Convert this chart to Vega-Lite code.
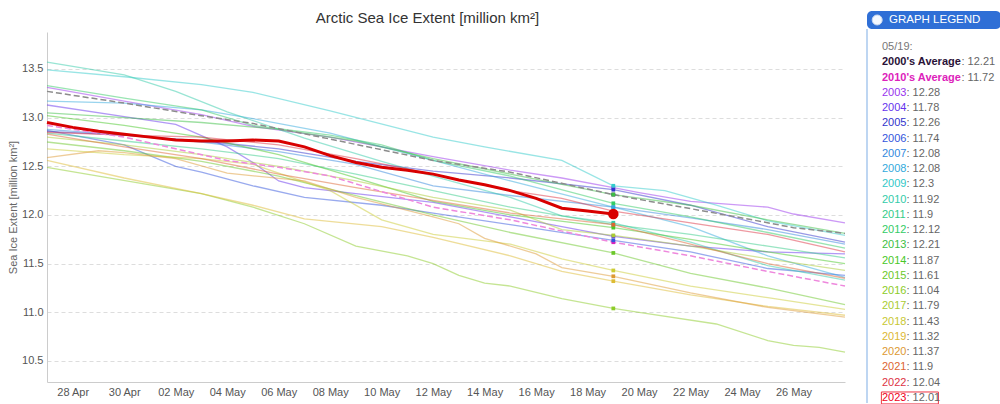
{
  "$schema": "https://vega.github.io/schema/vega-lite/v6.json",
  "background": "white",
  "padding": {"left": 7, "top": 10, "right": 0, "bottom": 0},
  "autosize": {"type": "pad"},
  "config": {"font": "Liberation Sans", "view": {"stroke": null}},
  "datasets": {
    "y2023": [
      {"series":"2023","date":"2023/04/27","value":12.95},{"series":"2023","date":"2023/04/28","value":12.90},{"series":"2023","date":"2023/04/29","value":12.86},{"series":"2023","date":"2023/04/30","value":12.83},{"series":"2023","date":"2023/05/01","value":12.80},{"series":"2023","date":"2023/05/02","value":12.77},{"series":"2023","date":"2023/05/03","value":12.76},{"series":"2023","date":"2023/05/04","value":12.76},{"series":"2023","date":"2023/05/05","value":12.77},{"series":"2023","date":"2023/05/06","value":12.76},{"series":"2023","date":"2023/05/07","value":12.70},{"series":"2023","date":"2023/05/08","value":12.61},{"series":"2023","date":"2023/05/09","value":12.54},{"series":"2023","date":"2023/05/10","value":12.49},{"series":"2023","date":"2023/05/11","value":12.46},{"series":"2023","date":"2023/05/12","value":12.42},{"series":"2023","date":"2023/05/13","value":12.36},{"series":"2023","date":"2023/05/14","value":12.31},{"series":"2023","date":"2023/05/15","value":12.25},{"series":"2023","date":"2023/05/16","value":12.17},{"series":"2023","date":"2023/05/17","value":12.07},{"series":"2023","date":"2023/05/18","value":12.04},{"series":"2023","date":"2023/05/19","value":12.01}
    ],
    "avg2000": [
      {"series":"2000's Average","date":"2023/04/27","value":13.27},{"series":"2000's Average","date":"2023/04/30","value":13.15},{"series":"2000's Average","date":"2023/05/03","value":13.02},{"series":"2000's Average","date":"2023/05/05","value":12.94},{"series":"2000's Average","date":"2023/05/08","value":12.78},{"series":"2000's Average","date":"2023/05/12","value":12.56},{"series":"2000's Average","date":"2023/05/15","value":12.44},{"series":"2000's Average","date":"2023/05/19","value":12.21},{"series":"2000's Average","date":"2023/05/20","value":12.16},{"series":"2000's Average","date":"2023/05/24","value":11.97},{"series":"2000's Average","date":"2023/05/26","value":11.87},{"series":"2000's Average","date":"2023/05/28","value":11.81}
    ],
    "avg2010": [
      {"series":"2010's Average","date":"2023/04/27","value":12.92},{"series":"2010's Average","date":"2023/04/30","value":12.80},{"series":"2010's Average","date":"2023/05/02","value":12.68},{"series":"2010's Average","date":"2023/05/04","value":12.56},{"series":"2010's Average","date":"2023/05/06","value":12.49},{"series":"2010's Average","date":"2023/05/08","value":12.40},{"series":"2010's Average","date":"2023/05/12","value":12.08},{"series":"2010's Average","date":"2023/05/15","value":11.95},{"series":"2010's Average","date":"2023/05/19","value":11.72},{"series":"2010's Average","date":"2023/05/22","value":11.58},{"series":"2010's Average","date":"2023/05/25","value":11.42},{"series":"2010's Average","date":"2023/05/28","value":11.27}
    ],
    "years": [
      {"series":"2003","date":"2023/04/27","value":13.31},{"series":"2003","date":"2023/04/30","value":13.17},{"series":"2003","date":"2023/05/03","value":13.03},{"series":"2003","date":"2023/05/05","value":12.91},{"series":"2003","date":"2023/05/08","value":12.80},{"series":"2003","date":"2023/05/12","value":12.60},{"series":"2003","date":"2023/05/15","value":12.46},{"series":"2003","date":"2023/05/17","value":12.38},{"series":"2003","date":"2023/05/19","value":12.28},{"series":"2003","date":"2023/05/20","value":12.23},{"series":"2003","date":"2023/05/22","value":12.14},{"series":"2003","date":"2023/05/25","value":12.08},{"series":"2003","date":"2023/05/26","value":12.01},{"series":"2003","date":"2023/05/28","value":11.92},
      {"series":"2004","date":"2023/04/27","value":13.13},{"series":"2004","date":"2023/04/30","value":13.01},{"series":"2004","date":"2023/05/02","value":12.93},{"series":"2004","date":"2023/05/04","value":12.70},{"series":"2004","date":"2023/05/05","value":12.54},{"series":"2004","date":"2023/05/06","value":12.35},{"series":"2004","date":"2023/05/07","value":12.28},{"series":"2004","date":"2023/05/09","value":12.22},{"series":"2004","date":"2023/05/12","value":12.13},{"series":"2004","date":"2023/05/15","value":11.98},{"series":"2004","date":"2023/05/19","value":11.78},{"series":"2004","date":"2023/05/22","value":11.68},{"series":"2004","date":"2023/05/25","value":11.62},{"series":"2004","date":"2023/05/28","value":11.60},
      {"series":"2005","date":"2023/04/27","value":12.86},{"series":"2005","date":"2023/04/30","value":12.82},{"series":"2005","date":"2023/05/03","value":12.76},{"series":"2005","date":"2023/05/06","value":12.68},{"series":"2005","date":"2023/05/09","value":12.55},{"series":"2005","date":"2023/05/12","value":12.45},{"series":"2005","date":"2023/05/15","value":12.38},{"series":"2005","date":"2023/05/19","value":12.26},{"series":"2005","date":"2023/05/22","value":12.10},{"series":"2005","date":"2023/05/25","value":11.88},{"series":"2005","date":"2023/05/28","value":11.72},
      {"series":"2006","date":"2023/04/27","value":12.87},{"series":"2006","date":"2023/04/30","value":12.72},{"series":"2006","date":"2023/05/02","value":12.50},{"series":"2006","date":"2023/05/03","value":12.44},{"series":"2006","date":"2023/05/05","value":12.30},{"series":"2006","date":"2023/05/07","value":12.18},{"series":"2006","date":"2023/05/10","value":12.10},{"series":"2006","date":"2023/05/12","value":12.02},{"series":"2006","date":"2023/05/15","value":11.90},{"series":"2006","date":"2023/05/19","value":11.74},{"series":"2006","date":"2023/05/22","value":11.62},{"series":"2006","date":"2023/05/25","value":11.45},{"series":"2006","date":"2023/05/28","value":11.38},
      {"series":"2007","date":"2023/04/27","value":12.88},{"series":"2007","date":"2023/04/30","value":12.82},{"series":"2007","date":"2023/05/03","value":12.75},{"series":"2007","date":"2023/05/06","value":12.65},{"series":"2007","date":"2023/05/09","value":12.52},{"series":"2007","date":"2023/05/12","value":12.30},{"series":"2007","date":"2023/05/15","value":12.20},{"series":"2007","date":"2023/05/19","value":12.08},{"series":"2007","date":"2023/05/22","value":11.97},{"series":"2007","date":"2023/05/25","value":11.85},{"series":"2007","date":"2023/05/28","value":11.70},
      {"series":"2008","date":"2023/04/27","value":13.17},{"series":"2008","date":"2023/04/30","value":13.15},{"series":"2008","date":"2023/05/03","value":13.08},{"series":"2008","date":"2023/05/05","value":12.99},{"series":"2008","date":"2023/05/08","value":12.84},{"series":"2008","date":"2023/05/12","value":12.56},{"series":"2008","date":"2023/05/15","value":12.35},{"series":"2008","date":"2023/05/19","value":12.08},{"series":"2008","date":"2023/05/22","value":11.88},{"series":"2008","date":"2023/05/25","value":11.58},{"series":"2008","date":"2023/05/28","value":11.36},
      {"series":"2009","date":"2023/04/27","value":13.49},{"series":"2009","date":"2023/04/30","value":13.42},{"series":"2009","date":"2023/05/03","value":13.34},{"series":"2009","date":"2023/05/05","value":13.26},{"series":"2009","date":"2023/05/08","value":13.07},{"series":"2009","date":"2023/05/12","value":12.80},{"series":"2009","date":"2023/05/14","value":12.70},{"series":"2009","date":"2023/05/17","value":12.56},{"series":"2009","date":"2023/05/19","value":12.30},{"series":"2009","date":"2023/05/21","value":12.25},{"series":"2009","date":"2023/05/23","value":12.10},{"series":"2009","date":"2023/05/25","value":11.94},{"series":"2009","date":"2023/05/28","value":11.79},
      {"series":"2010","date":"2023/04/27","value":13.57},{"series":"2010","date":"2023/04/30","value":13.44},{"series":"2010","date":"2023/05/02","value":13.27},{"series":"2010","date":"2023/05/04","value":13.06},{"series":"2010","date":"2023/05/07","value":12.79},{"series":"2010","date":"2023/05/10","value":12.55},{"series":"2010","date":"2023/05/12","value":12.40},{"series":"2010","date":"2023/05/15","value":12.18},{"series":"2010","date":"2023/05/17","value":11.99},{"series":"2010","date":"2023/05/19","value":11.92},{"series":"2010","date":"2023/05/22","value":11.72},{"series":"2010","date":"2023/05/25","value":11.48},{"series":"2010","date":"2023/05/28","value":11.33},
      {"series":"2011","date":"2023/04/27","value":12.84},{"series":"2011","date":"2023/04/30","value":12.76},{"series":"2011","date":"2023/05/03","value":12.68},{"series":"2011","date":"2023/05/06","value":12.58},{"series":"2011","date":"2023/05/09","value":12.42},{"series":"2011","date":"2023/05/12","value":12.25},{"series":"2011","date":"2023/05/15","value":12.08},{"series":"2011","date":"2023/05/19","value":11.90},{"series":"2011","date":"2023/05/22","value":11.80},{"series":"2011","date":"2023/05/25","value":11.68},{"series":"2011","date":"2023/05/28","value":11.56},
      {"series":"2012","date":"2023/04/27","value":13.33},{"series":"2012","date":"2023/04/30","value":13.20},{"series":"2012","date":"2023/05/03","value":13.08},{"series":"2012","date":"2023/05/05","value":12.92},{"series":"2012","date":"2023/05/08","value":12.82},{"series":"2012","date":"2023/05/10","value":12.72},{"series":"2012","date":"2023/05/12","value":12.56},{"series":"2012","date":"2023/05/15","value":12.40},{"series":"2012","date":"2023/05/19","value":12.12},{"series":"2012","date":"2023/05/22","value":11.98},{"series":"2012","date":"2023/05/25","value":11.82},{"series":"2012","date":"2023/05/28","value":11.66},
      {"series":"2013","date":"2023/04/27","value":13.05},{"series":"2013","date":"2023/04/30","value":13.00},{"series":"2013","date":"2023/05/03","value":12.95},{"series":"2013","date":"2023/05/06","value":12.88},{"series":"2013","date":"2023/05/09","value":12.76},{"series":"2013","date":"2023/05/12","value":12.58},{"series":"2013","date":"2023/05/15","value":12.42},{"series":"2013","date":"2023/05/19","value":12.21},{"series":"2013","date":"2023/05/22","value":12.10},{"series":"2013","date":"2023/05/25","value":11.95},{"series":"2013","date":"2023/05/28","value":11.81},
      {"series":"2014","date":"2023/04/27","value":13.02},{"series":"2014","date":"2023/04/30","value":12.92},{"series":"2014","date":"2023/05/03","value":12.80},{"series":"2014","date":"2023/05/06","value":12.62},{"series":"2014","date":"2023/05/09","value":12.38},{"series":"2014","date":"2023/05/12","value":12.14},{"series":"2014","date":"2023/05/15","value":12.00},{"series":"2014","date":"2023/05/19","value":11.87},{"series":"2014","date":"2023/05/22","value":11.75},{"series":"2014","date":"2023/05/25","value":11.62},{"series":"2014","date":"2023/05/28","value":11.50},
      {"series":"2015","date":"2023/04/27","value":12.75},{"series":"2015","date":"2023/04/30","value":12.66},{"series":"2015","date":"2023/05/03","value":12.55},{"series":"2015","date":"2023/05/06","value":12.40},{"series":"2015","date":"2023/05/09","value":12.20},{"series":"2015","date":"2023/05/12","value":12.00},{"series":"2015","date":"2023/05/15","value":11.82},{"series":"2015","date":"2023/05/19","value":11.61},{"series":"2015","date":"2023/05/22","value":11.40},{"series":"2015","date":"2023/05/25","value":11.25},{"series":"2015","date":"2023/05/28","value":11.08},
      {"series":"2016","date":"2023/04/27","value":12.49},{"series":"2016","date":"2023/04/29","value":12.40},{"series":"2016","date":"2023/05/01","value":12.31},{"series":"2016","date":"2023/05/03","value":12.22},{"series":"2016","date":"2023/05/05","value":12.08},{"series":"2016","date":"2023/05/07","value":11.91},{"series":"2016","date":"2023/05/09","value":11.68},{"series":"2016","date":"2023/05/11","value":11.58},{"series":"2016","date":"2023/05/12","value":11.50},{"series":"2016","date":"2023/05/13","value":11.38},{"series":"2016","date":"2023/05/14","value":11.30},{"series":"2016","date":"2023/05/15","value":11.27},{"series":"2016","date":"2023/05/17","value":11.14},{"series":"2016","date":"2023/05/19","value":11.04},{"series":"2016","date":"2023/05/20","value":11.00},{"series":"2016","date":"2023/05/23","value":10.88},{"series":"2016","date":"2023/05/25","value":10.71},{"series":"2016","date":"2023/05/26","value":10.66},{"series":"2016","date":"2023/05/27","value":10.64},{"series":"2016","date":"2023/05/28","value":10.59},
      {"series":"2017","date":"2023/04/27","value":12.80},{"series":"2017","date":"2023/04/30","value":12.72},{"series":"2017","date":"2023/05/03","value":12.62},{"series":"2017","date":"2023/05/06","value":12.50},{"series":"2017","date":"2023/05/09","value":12.35},{"series":"2017","date":"2023/05/12","value":12.18},{"series":"2017","date":"2023/05/15","value":12.05},{"series":"2017","date":"2023/05/17","value":11.85},{"series":"2017","date":"2023/05/19","value":11.79},{"series":"2017","date":"2023/05/22","value":11.68},{"series":"2017","date":"2023/05/25","value":11.55},{"series":"2017","date":"2023/05/28","value":11.43},
      {"series":"2018","date":"2023/04/27","value":12.68},{"series":"2018","date":"2023/04/30","value":12.62},{"series":"2018","date":"2023/05/03","value":12.58},{"series":"2018","date":"2023/05/05","value":12.52},{"series":"2018","date":"2023/05/08","value":12.25},{"series":"2018","date":"2023/05/10","value":11.95},{"series":"2018","date":"2023/05/12","value":11.80},{"series":"2018","date":"2023/05/15","value":11.70},{"series":"2018","date":"2023/05/17","value":11.55},{"series":"2018","date":"2023/05/19","value":11.43},{"series":"2018","date":"2023/05/22","value":11.27},{"series":"2018","date":"2023/05/25","value":11.15},{"series":"2018","date":"2023/05/28","value":11.03},
      {"series":"2019","date":"2023/04/27","value":12.56},{"series":"2019","date":"2023/04/30","value":12.38},{"series":"2019","date":"2023/05/03","value":12.22},{"series":"2019","date":"2023/05/05","value":12.10},{"series":"2019","date":"2023/05/07","value":11.96},{"series":"2019","date":"2023/05/10","value":11.88},{"series":"2019","date":"2023/05/12","value":11.77},{"series":"2019","date":"2023/05/15","value":11.58},{"series":"2019","date":"2023/05/17","value":11.42},{"series":"2019","date":"2023/05/19","value":11.32},{"series":"2019","date":"2023/05/22","value":11.18},{"series":"2019","date":"2023/05/25","value":11.06},{"series":"2019","date":"2023/05/28","value":10.97},
      {"series":"2020","date":"2023/04/27","value":12.59},{"series":"2020","date":"2023/04/29","value":12.66},{"series":"2020","date":"2023/04/30","value":12.64},{"series":"2020","date":"2023/05/02","value":12.58},{"series":"2020","date":"2023/05/04","value":12.43},{"series":"2020","date":"2023/05/07","value":12.35},{"series":"2020","date":"2023/05/09","value":12.18},{"series":"2020","date":"2023/05/12","value":11.98},{"series":"2020","date":"2023/05/13","value":11.91},{"series":"2020","date":"2023/05/14","value":11.76},{"series":"2020","date":"2023/05/16","value":11.60},{"series":"2020","date":"2023/05/17","value":11.46},{"series":"2020","date":"2023/05/19","value":11.37},{"series":"2020","date":"2023/05/22","value":11.20},{"series":"2020","date":"2023/05/25","value":11.05},{"series":"2020","date":"2023/05/28","value":10.95},
      {"series":"2021","date":"2023/04/27","value":12.83},{"series":"2021","date":"2023/04/30","value":12.70},{"series":"2021","date":"2023/05/03","value":12.58},{"series":"2021","date":"2023/05/06","value":12.42},{"series":"2021","date":"2023/05/09","value":12.28},{"series":"2021","date":"2023/05/12","value":12.15},{"series":"2021","date":"2023/05/15","value":12.02},{"series":"2021","date":"2023/05/19","value":11.90},{"series":"2021","date":"2023/05/22","value":11.70},{"series":"2021","date":"2023/05/25","value":11.50},{"series":"2021","date":"2023/05/28","value":11.35},
      {"series":"2022","date":"2023/04/27","value":12.85},{"series":"2022","date":"2023/04/30","value":12.82},{"series":"2022","date":"2023/05/03","value":12.80},{"series":"2022","date":"2023/05/06","value":12.72},{"series":"2022","date":"2023/05/09","value":12.58},{"series":"2022","date":"2023/05/12","value":12.42},{"series":"2022","date":"2023/05/15","value":12.25},{"series":"2022","date":"2023/05/17","value":12.17},{"series":"2022","date":"2023/05/19","value":12.04},{"series":"2022","date":"2023/05/22","value":11.92},{"series":"2022","date":"2023/05/25","value":11.80},{"series":"2022","date":"2023/05/28","value":11.62}
    ],
    "legend": [
      {"row":0,"series":"05/19:","label":"05/19:","kind":"head","panel":"GRAPH LEGEND"},
      {"row":1,"series":"2000's Average","label":"2000's Average","shown":": 12.21","value":12.21,"date":"2023/05/19","kind":"avg"},
      {"row":2,"series":"2010's Average","label":"2010's Average","shown":": 11.72","value":11.72,"date":"2023/05/19","kind":"avg"},
      {"row":3,"series":"2003","label":"2003","shown":": 12.28","value":12.28,"date":"2023/05/19","kind":"year"},
      {"row":4,"series":"2004","label":"2004","shown":": 11.78","value":11.78,"date":"2023/05/19","kind":"year"},
      {"row":5,"series":"2005","label":"2005","shown":": 12.26","value":12.26,"date":"2023/05/19","kind":"year"},
      {"row":6,"series":"2006","label":"2006","shown":": 11.74","value":11.74,"date":"2023/05/19","kind":"year"},
      {"row":7,"series":"2007","label":"2007","shown":": 12.08","value":12.08,"date":"2023/05/19","kind":"year"},
      {"row":8,"series":"2008","label":"2008","shown":": 12.08","value":12.08,"date":"2023/05/19","kind":"year"},
      {"row":9,"series":"2009","label":"2009","shown":": 12.3","value":12.3,"date":"2023/05/19","kind":"year"},
      {"row":10,"series":"2010","label":"2010","shown":": 11.92","value":11.92,"date":"2023/05/19","kind":"year"},
      {"row":11,"series":"2011","label":"2011","shown":": 11.9","value":11.9,"date":"2023/05/19","kind":"year"},
      {"row":12,"series":"2012","label":"2012","shown":": 12.12","value":12.12,"date":"2023/05/19","kind":"year"},
      {"row":13,"series":"2013","label":"2013","shown":": 12.21","value":12.21,"date":"2023/05/19","kind":"year"},
      {"row":14,"series":"2014","label":"2014","shown":": 11.87","value":11.87,"date":"2023/05/19","kind":"year"},
      {"row":15,"series":"2015","label":"2015","shown":": 11.61","value":11.61,"date":"2023/05/19","kind":"year"},
      {"row":16,"series":"2016","label":"2016","shown":": 11.04","value":11.04,"date":"2023/05/19","kind":"year"},
      {"row":17,"series":"2017","label":"2017","shown":": 11.79","value":11.79,"date":"2023/05/19","kind":"year"},
      {"row":18,"series":"2018","label":"2018","shown":": 11.43","value":11.43,"date":"2023/05/19","kind":"year"},
      {"row":19,"series":"2019","label":"2019","shown":": 11.32","value":11.32,"date":"2023/05/19","kind":"year"},
      {"row":20,"series":"2020","label":"2020","shown":": 11.37","value":11.37,"date":"2023/05/19","kind":"year"},
      {"row":21,"series":"2021","label":"2021","shown":": 11.9","value":11.9,"date":"2023/05/19","kind":"year"},
      {"row":22,"series":"2022","label":"2022","shown":": 12.04","value":12.04,"date":"2023/05/19","kind":"year"},
      {"row":23,"series":"2023","label":"2023","shown":": 12.01","value":12.01,"date":"2023/05/19","kind":"current"}
    ]
  },
  "spacing": 18,
  "resolve": {"scale": {"x": "independent", "y": "independent", "color": "independent"}},
  "hconcat": [
    {
      "width": 798,
      "height": 350,
      "title": {"text": "Arctic Sea Ice Extent [million km²]", "fontSize": 15, "fontWeight": "normal", "color": "#333333", "offset": 6, "anchor": "middle", "frame": "bounds"},
      "encoding": {
        "x": {"field": "date", "type": "temporal",
              "scale": {"domain": [{"year":2023,"month":4,"date":27},{"year":2023,"month":5,"date":28}]},
              "axis": {"title": null, "format": "%d %b", "labelFontSize": 11, "labelColor": "#555555", "ticks": false, "grid": false, "domainColor": "#cccccc", "labelPadding": 4, "labelFlush": false,
                "values": [{"year":2023,"month":4,"date":28},{"year":2023,"month":4,"date":30},{"year":2023,"month":5,"date":2},{"year":2023,"month":5,"date":4},{"year":2023,"month":5,"date":6},{"year":2023,"month":5,"date":8},{"year":2023,"month":5,"date":10},{"year":2023,"month":5,"date":12},{"year":2023,"month":5,"date":14},{"year":2023,"month":5,"date":16},{"year":2023,"month":5,"date":18},{"year":2023,"month":5,"date":20},{"year":2023,"month":5,"date":22},{"year":2023,"month":5,"date":24},{"year":2023,"month":5,"date":26}]}},
        "y": {"field": "value", "type": "quantitative",
              "scale": {"domain": [10.284, 13.88], "nice": false, "zero": false},
              "axis": {"title": "Sea Ice Extent [million km²]", "titleFontSize": 11, "titleFontWeight": "normal", "titleColor": "#666666", "values": [10.5, 11, 11.5, 12, 12.5, 13, 13.5], "format": ".1f", "labelFontSize": 11, "labelColor": "#555555", "ticks": false, "grid": true, "gridDash": [4, 3], "gridColor": "#dddddd", "domainColor": "#cccccc", "labelPadding": 4, "minExtent": 22, "maxExtent": 22, "titlePadding": 7}}
      },
      "layer": [
        {
          "data": {"name": "years"},
          "mark": {"type": "line", "strokeWidth": 1.3, "opacity": 0.5},
          "encoding": {
            "color": {"field": "series", "type": "nominal", "legend": null,
              "scale": {"domain": ["05/19:","2000's Average","2010's Average","2003","2004","2005","2006","2007","2008","2009","2010","2011","2012","2013","2014","2015","2016","2017","2018","2019","2020","2021","2022","2023"],
                        "range": ["#777777","#2a1238","#dd22bb","#9933ee","#6633ee","#3333cc","#3355dd","#3388dd","#33aadd","#33cccc","#33ccaa","#33cc88","#33cc66","#3cbf44","#48c828","#6cc82a","#8ccc28","#aacc33","#cccc33","#ddbb33","#dd9933","#dd6633","#dd3344","#ee0022"]}},
            "detail": {"field": "series"}
          }
        },
        {
          "data": {"name": "avg2000"},
          "mark": {"type": "line", "strokeWidth": 1.5, "color": "#8c8c8c", "strokeDash": [6, 3]},
          "encoding": {}
        },
        {
          "data": {"name": "avg2010"},
          "mark": {"type": "line", "strokeWidth": 1.5, "color": "#ee88dd", "strokeDash": [6, 3]},
          "encoding": {}
        },
        {
          "data": {"name": "legend"},
          "transform": [{"filter": "datum.kind == 'year' || datum.kind == 'avg'"}],
          "mark": {"type": "square", "size": 14, "opacity": 1, "filled": true},
          "encoding": {
            "color": {"field": "series", "type": "nominal", "legend": null,
              "scale": {"domain": ["05/19:","2000's Average","2010's Average","2003","2004","2005","2006","2007","2008","2009","2010","2011","2012","2013","2014","2015","2016","2017","2018","2019","2020","2021","2022","2023"],
                        "range": ["#777777","#2a1238","#dd22bb","#9933ee","#6633ee","#3333cc","#3355dd","#3388dd","#33aadd","#33cccc","#33ccaa","#33cc88","#33cc66","#3cbf44","#48c828","#6cc82a","#8ccc28","#aacc33","#cccc33","#ddbb33","#dd9933","#dd6633","#dd3344","#ee0022"]}}
          }
        },
        {
          "data": {"name": "y2023"},
          "mark": {"type": "line", "strokeWidth": 3, "color": "#d80000"},
          "encoding": {}
        },
        {
          "data": {"name": "legend"},
          "transform": [{"filter": "datum.kind == 'current'"}],
          "mark": {"type": "circle", "size": 110, "color": "#d80000", "opacity": 1},
          "encoding": {}
        }
      ]
    },
    {
      "width": 134,
      "height": 371,
      "data": {"name": "legend"},
      "layer": [
        {
          "transform": [{"filter": "datum.kind == 'head'"}],
          "mark": {"type": "rect", "color": "#2f6fd6", "cornerRadius": 5, "opacity": 1},
          "encoding": {
            "x": {"datum": 0, "type": "quantitative", "scale": {"domain": [0, 1]}, "axis": null},
            "x2": {"datum": 1},
            "y": {"datum": -2.36, "type": "quantitative", "scale": {"domain": [-0.983, 23.33], "reverse": true, "nice": false, "zero": false}, "axis": null},
            "y2": {"datum": -1.18}
          }
        },
        {
          "transform": [{"filter": "datum.kind == 'head'"}],
          "mark": {"type": "circle", "size": 100, "color": "#f4f8ff", "opacity": 1, "stroke": "#c8d8f0", "strokeWidth": 1},
          "encoding": {
            "x": {"datum": 0.076, "type": "quantitative", "scale": {"domain": [0, 1]}, "axis": null},
            "y": {"datum": -1.77, "type": "quantitative", "scale": {"domain": [-0.983, 23.33], "reverse": true, "nice": false, "zero": false}, "axis": null}
          }
        },
        {
          "transform": [{"filter": "datum.kind == 'head'"}],
          "mark": {"type": "text", "align": "left", "baseline": "middle", "fontSize": 11.5, "color": "white", "dx": 22},
          "encoding": {
            "x": {"datum": 0, "type": "quantitative", "scale": {"domain": [0, 1]}, "axis": null},
            "y": {"datum": -1.77, "type": "quantitative", "scale": {"domain": [-0.983, 23.33], "reverse": true, "nice": false, "zero": false}, "axis": null},
            "text": {"field": "panel"}
          }
        },
        {
          "transform": [{"filter": "datum.kind == 'head'"}],
          "mark": {"type": "rule", "color": "#a8c8ee", "strokeWidth": 1.5},
          "encoding": {
            "x": {"datum": 0, "type": "quantitative", "scale": {"domain": [0, 1]}, "axis": null},
            "y": {"datum": -1.18, "type": "quantitative", "scale": {"domain": [-0.983, 23.33], "reverse": true, "nice": false, "zero": false}, "axis": null},
            "y2": {"datum": 23.33}
          }
        },
        {
          "transform": [{"filter": "datum.kind == 'current'"}],
          "mark": {"type": "point", "shape": "M -1 -0.21 H 1 V 0.21 H -1 Z", "size": 3249, "filled": false, "color": "#ee3344", "strokeWidth": 1, "opacity": 1},
          "encoding": {
            "x": {"datum": 0.32, "type": "quantitative", "scale": {"domain": [0, 1]}, "axis": null},
            "y": {"field": "row", "type": "quantitative", "scale": {"domain": [-0.983, 23.33], "reverse": true, "nice": false, "zero": false}, "axis": null}
          }
        },
        {
          "mark": {"type": "text", "align": "left", "baseline": "middle", "fontSize": 11, "dx": 15},
          "transform": [{"filter": "datum.kind != 'avg'"}],
          "encoding": {
            "x": {"datum": 0, "type": "quantitative", "scale": {"domain": [0, 1]}, "axis": null},
            "y": {"field": "row", "type": "quantitative", "scale": {"domain": [-0.983, 23.33], "reverse": true, "nice": false, "zero": false}, "axis": null},
            "text": {"field": "label"},
            "color": {"field": "series", "type": "nominal", "legend": null,
              "scale": {"domain": ["05/19:","2000's Average","2010's Average","2003","2004","2005","2006","2007","2008","2009","2010","2011","2012","2013","2014","2015","2016","2017","2018","2019","2020","2021","2022","2023"],
                        "range": ["#777777","#2a1238","#dd22bb","#9933ee","#6633ee","#3333cc","#3355dd","#3388dd","#33aadd","#33c8c8","#33ccaa","#33cc88","#33cc66","#3cbf44","#48c828","#6cc82a","#8ccc28","#aacc33","#c8c833","#ddb833","#dd9933","#dd6633","#dd3344","#ee0022"]}}
          }
        },
        {
          "mark": {"type": "text", "align": "left", "baseline": "middle", "fontSize": 11, "fontWeight": "bold", "dx": 15},
          "transform": [{"filter": "datum.kind == 'avg'"}],
          "encoding": {
            "x": {"datum": 0, "type": "quantitative", "scale": {"domain": [0, 1]}, "axis": null},
            "y": {"field": "row", "type": "quantitative", "scale": {"domain": [-0.983, 23.33], "reverse": true, "nice": false, "zero": false}, "axis": null},
            "text": {"field": "label"},
            "color": {"field": "series", "type": "nominal", "legend": null,
              "scale": {"domain": ["05/19:","2000's Average","2010's Average","2003","2004","2005","2006","2007","2008","2009","2010","2011","2012","2013","2014","2015","2016","2017","2018","2019","2020","2021","2022","2023"],
                        "range": ["#777777","#2a1238","#dd22bb","#9933ee","#6633ee","#3333cc","#3355dd","#3388dd","#33aadd","#33c8c8","#33ccaa","#33cc88","#33cc66","#3cbf44","#48c828","#6cc82a","#8ccc28","#aacc33","#c8c833","#ddb833","#dd9933","#dd6633","#dd3344","#ee0022"]}}
          }
        },
        {
          "mark": {"type": "text", "align": "left", "baseline": "middle", "fontSize": 11, "dx": 39.5, "color": "#666666"},
          "transform": [{"filter": "datum.kind == 'year' || datum.kind == 'current'"}],
          "encoding": {
            "x": {"datum": 0, "type": "quantitative", "scale": {"domain": [0, 1]}, "axis": null},
            "y": {"field": "row", "type": "quantitative", "scale": {"domain": [-0.983, 23.33], "reverse": true, "nice": false, "zero": false}, "axis": null},
            "text": {"field": "shown"}
          }
        },
        {
          "mark": {"type": "text", "align": "left", "baseline": "middle", "fontSize": 11, "dx": 94.5, "color": "#666666"},
          "transform": [{"filter": "datum.kind == 'avg'"}],
          "encoding": {
            "x": {"datum": 0, "type": "quantitative", "scale": {"domain": [0, 1]}, "axis": null},
            "y": {"field": "row", "type": "quantitative", "scale": {"domain": [-0.983, 23.33], "reverse": true, "nice": false, "zero": false}, "axis": null},
            "text": {"field": "shown"}
          }
        }
      ]
    }
  ]
}
